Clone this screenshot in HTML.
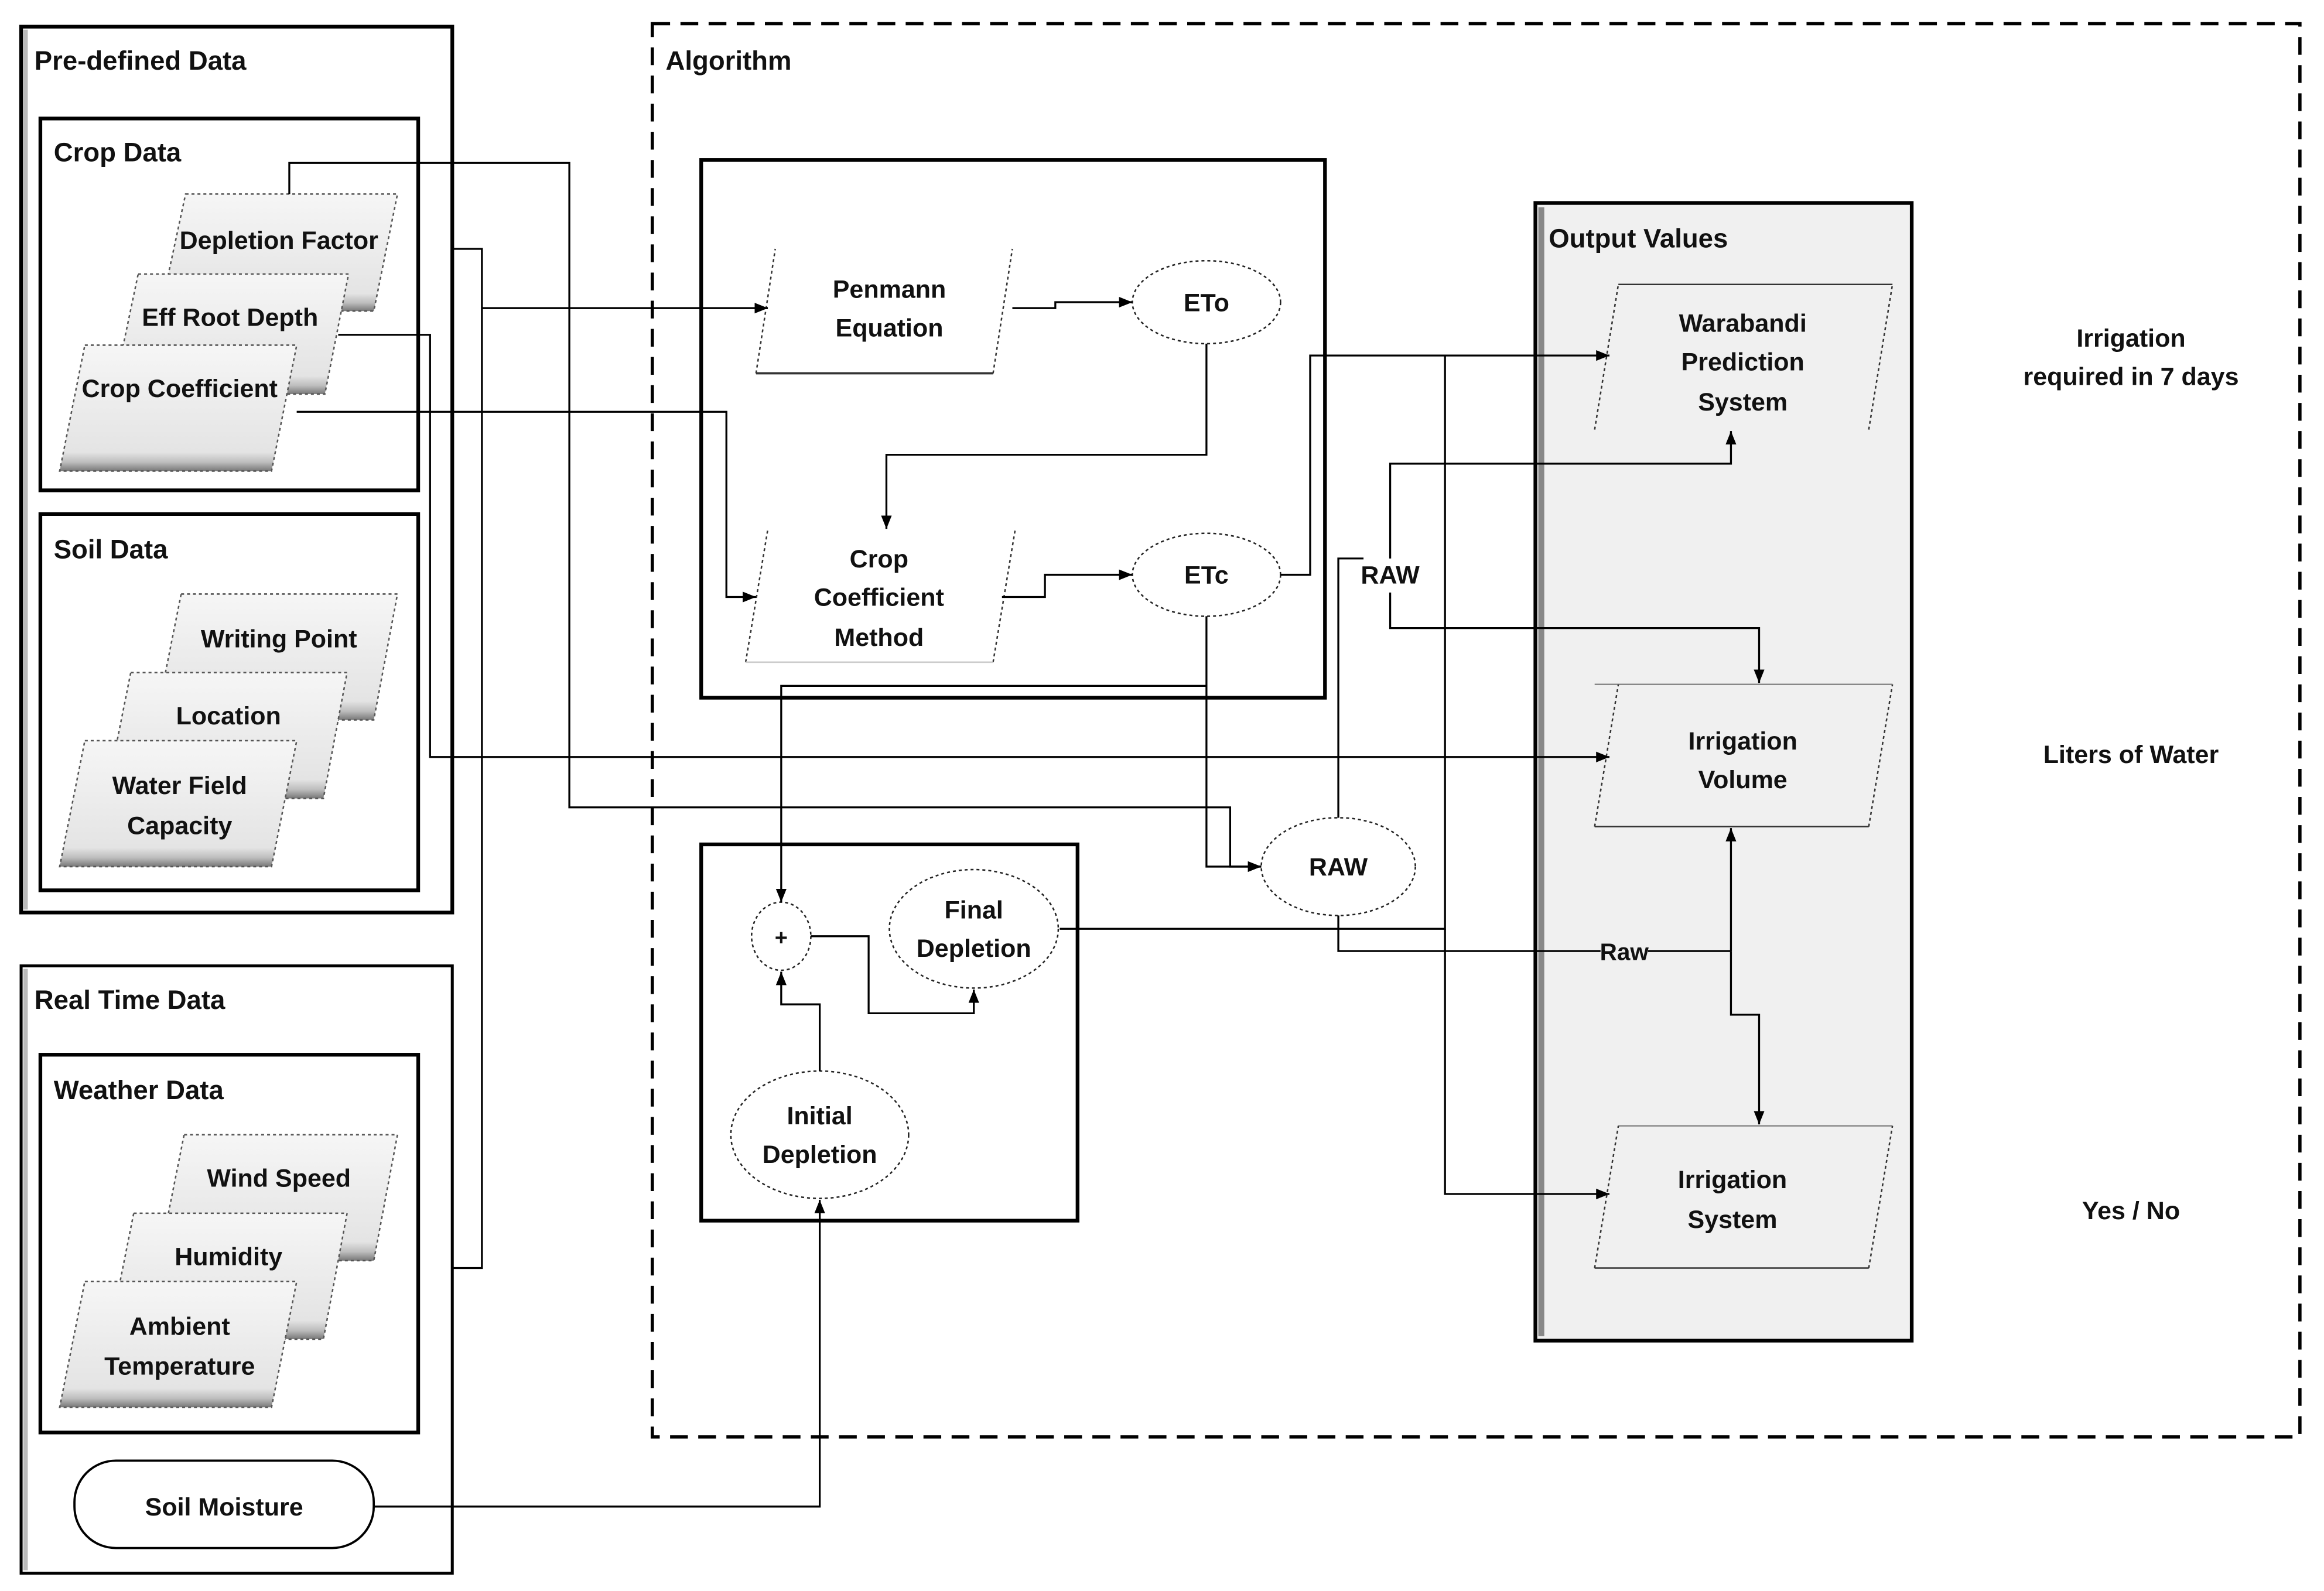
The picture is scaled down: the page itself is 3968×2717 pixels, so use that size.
<!DOCTYPE html>
<html><head><meta charset="utf-8"><style>
html,body{margin:0;padding:0;background:#fff;}
svg{display:block;}
text{font-family:"Liberation Sans",sans-serif;font-weight:bold;fill:#111;}
</style></head><body>
<svg width="3968" height="2717" viewBox="0 0 1568 1074" xmlns="http://www.w3.org/2000/svg">
<defs>
<linearGradient id="pg" x1="0" y1="0" x2="0" y2="1">
<stop offset="0" stop-color="#f6f6f6"/><stop offset="0.85" stop-color="#e4e4e4"/><stop offset="0.93" stop-color="#bdbdbd"/><stop offset="1" stop-color="#777"/>
</linearGradient>
<marker id="ar" viewBox="0 0 10 10" refX="10" refY="5" markerWidth="9" markerHeight="9" markerUnits="userSpaceOnUse" orient="auto"><path d="M0,1 L10,5 L0,9 z" fill="#000"/></marker>
</defs>
<rect width="1568" height="1074" fill="#fff"/>

<!-- Pre-defined -->
<rect x="14" y="18" width="291" height="598" fill="#fff" stroke="#000" stroke-width="2.5"/>
<line x1="17" y1="20" x2="17" y2="614" stroke="#bbb" stroke-width="3"/>
<text x="23" y="47" font-size="18">Pre-defined Data</text>
<rect x="27" y="80" width="255" height="251" fill="none" stroke="#000" stroke-width="2.5"/>
<text x="36" y="109" font-size="18">Crop Data</text>
<rect x="27" y="347" width="255" height="254" fill="none" stroke="#000" stroke-width="2.5"/>
<text x="36" y="377" font-size="18">Soil Data</text>

<g stroke="#555" stroke-width="1" stroke-dasharray="2,2">
<polygon points="125,131 268,131 252,210 108,210" fill="url(#pg)"/>
<polygon points="93,185 235,185 219,266 76,266" fill="url(#pg)"/>
<polygon points="57,233 200,233 183,318 40,318" fill="url(#pg)"/>
<polygon points="122,401 268,401 252,486 105,486" fill="url(#pg)"/>
<polygon points="88,454 234,454 218,539 71,539" fill="url(#pg)"/>
<polygon points="57,500 200,500 183,585 40,585" fill="url(#pg)"/>
<polygon points="124,766 268,766 252,851 107,851" fill="url(#pg)"/>
<polygon points="90,819 234,819 218,904 73,904" fill="url(#pg)"/>
<polygon points="57,865 200,865 183,950 40,950" fill="url(#pg)"/>
</g>
<g font-size="17" text-anchor="middle">
<text x="188" y="168">Depletion Factor</text>
<text x="155" y="220">Eff Root Depth</text>
<text x="121" y="268">Crop Coefficient</text>
<text x="188" y="437">Writing Point</text>
<text x="154" y="489">Location</text>
<text x="121" y="536">Water Field</text>
<text x="121" y="563">Capacity</text>
<text x="188" y="801">Wind Speed</text>
<text x="154" y="854">Humidity</text>
<text x="121" y="901">Ambient</text>
<text x="121" y="928">Temperature</text>
</g>

<!-- Real time -->
<rect x="14" y="652" width="291" height="410" fill="#fff" stroke="#000" stroke-width="2"/>
<line x1="17" y1="654" x2="17" y2="1060" stroke="#bbb" stroke-width="3"/>
<text x="23" y="681" font-size="18">Real Time Data</text>
<rect x="27" y="712" width="255" height="255" fill="none" stroke="#000" stroke-width="2.5"/>
<text x="36" y="742" font-size="18">Weather Data</text>
<g stroke="#555" stroke-width="1" stroke-dasharray="2,2">
<polygon points="124,766 268,766 252,851 107,851" fill="url(#pg)"/>
<polygon points="90,819 234,819 218,904 73,904" fill="url(#pg)"/>
<polygon points="57,865 200,865 183,950 40,950" fill="url(#pg)"/>
</g>
<g font-size="17" text-anchor="middle">
<text x="188" y="801">Wind Speed</text>
<text x="154" y="854">Humidity</text>
<text x="121" y="901">Ambient</text>
<text x="121" y="928">Temperature</text>
</g>
<rect x="50" y="986" width="202" height="59" rx="28" fill="#fff" stroke="#000" stroke-width="1.5"/>
<text x="151" y="1023" font-size="17" text-anchor="middle">Soil Moisture</text>

<!-- Algorithm -->
<rect x="440" y="16" width="1112" height="954" fill="none" stroke="#000" stroke-width="2.2" stroke-dasharray="12,7"/>
<text x="449" y="47" font-size="18">Algorithm</text>
<rect x="473" y="108" width="421" height="363" fill="none" stroke="#000" stroke-width="2.5"/>
<rect x="473" y="570" width="254" height="254" fill="none" stroke="#000" stroke-width="2.5"/>

<!-- Output -->
<rect x="1036" y="137" width="254" height="768" fill="#f0f0f0" stroke="#000" stroke-width="2.5"/>
<line x1="1040" y1="140" x2="1040" y2="902" stroke="#888" stroke-width="4"/>
<text x="1045" y="167" font-size="18">Output Values</text>

<g fill="none" stroke="#333" stroke-width="1">
<line x1="1076" y1="290" x2="1092" y2="192" stroke-dasharray="2,2"/>
<line x1="1261" y1="290" x2="1277" y2="192" stroke-dasharray="2,2"/>
<line x1="1092" y1="192" x2="1277" y2="192"/>
<line x1="1076" y1="462" x2="1277" y2="462" stroke="#888"/><line x1="1076" y1="558" x2="1261" y2="558"/>
<line x1="1076" y1="558" x2="1092" y2="462" stroke-dasharray="2,2"/>
<line x1="1261" y1="558" x2="1277" y2="462" stroke-dasharray="2,2"/>
<line x1="1092" y1="760" x2="1277" y2="760" stroke="#888"/><line x1="1076" y1="856" x2="1261" y2="856"/>
<line x1="1076" y1="856" x2="1092" y2="760" stroke-dasharray="2,2"/>
<line x1="1261" y1="856" x2="1277" y2="760" stroke-dasharray="2,2"/>
<!-- Penmann -->
<line x1="510" y1="252" x2="523" y2="168" stroke-dasharray="2,2"/>
<line x1="670" y1="252" x2="683" y2="168" stroke-dasharray="2,2"/>
<line x1="510" y1="252" x2="670" y2="252" stroke-width="1.5"/>
<line x1="503" y1="447" x2="518" y2="357" stroke-dasharray="2,2"/>
<line x1="670" y1="447" x2="685" y2="357" stroke-dasharray="2,2"/>
<line x1="503" y1="447" x2="670" y2="447" stroke="#ccc"/>
<!-- ellipses -->
<g stroke-dasharray="2,2" stroke="#222">
<ellipse cx="814" cy="204" rx="50" ry="28"/>
<ellipse cx="814" cy="388" rx="50" ry="28"/>
<ellipse cx="903" cy="585" rx="52" ry="33"/>
<ellipse cx="527" cy="632" rx="20" ry="23"/>
<ellipse cx="657" cy="627" rx="57" ry="40"/>
<ellipse cx="553" cy="766" rx="60" ry="43"/>
</g>
</g>

<g font-size="17" text-anchor="middle">
<text x="1176" y="224">Warabandi</text><text x="1176" y="250">Prediction</text><text x="1176" y="277">System</text>
<text x="1176" y="506">Irrigation</text><text x="1176" y="532">Volume</text>
<text x="1169" y="802">Irrigation</text><text x="1169" y="829">System</text>
<text x="600" y="201">Penmann</text><text x="600" y="227">Equation</text>
<text x="593" y="383">Crop</text><text x="593" y="409">Coefficient</text><text x="593" y="436">Method</text>
<text x="814" y="210">ETo</text>
<text x="814" y="394">ETc</text>
<text x="903" y="591">RAW</text>
<text x="527" y="638" font-size="15">+</text>
<text x="657" y="620">Final</text><text x="657" y="646">Depletion</text>
<text x="553" y="759">Initial</text><text x="553" y="785">Depletion</text>
<text x="1438" y="234">Irrigation</text><text x="1438" y="260">required in 7 days</text>
<text x="1438" y="515">Liters of Water</text>
<text x="1438" y="823">Yes / No</text>
</g>

<!-- connectors -->
<g fill="none" stroke="#000" stroke-width="1.3">
<polyline points="195,131 195,110 384,110 384,545 830,545 830,585 851,585" marker-end="url(#ar)"/>
<polyline points="305,168 325,168 325,856 305,856"/>
<polyline points="325,208 518,208" marker-end="url(#ar)"/>
<polyline points="228,226 290,226 290,511 1086,511" marker-end="url(#ar)"/>
<polyline points="200,278 490,278 490,403 510,403" marker-end="url(#ar)"/>
<polyline points="683,208 712,208 712,204 764,204" marker-end="url(#ar)"/>
<polyline points="814,232 814,307 598,307 598,357" marker-end="url(#ar)"/>
<polyline points="676,403 705,403 705,388 764,388" marker-end="url(#ar)"/>
<polyline points="864,388 884,388 884,240 1086,240" marker-end="url(#ar)"/>
<polyline points="814,416 814,585 851,585" marker-end="url(#ar)"/>
<polyline points="814,463 527,463 527,609" marker-end="url(#ar)"/>
<polyline points="903,552 903,377 920,377"/>
<polyline points="938,377 938,313 1168,313 1168,291" marker-end="url(#ar)"/>
<polyline points="938,400 938,424 1187,424 1187,461" marker-end="url(#ar)"/>
<polyline points="715,627 975,627 975,240"/>
<polyline points="975,627 975,806 1086,806" marker-end="url(#ar)"/>
<polyline points="903,618 903,642 1080,642"/>
<polyline points="1112,642 1168,642"/>
<polyline points="1168,642 1168,559" marker-end="url(#ar)"/>
<polyline points="1168,642 1168,685 1187,685 1187,759" marker-end="url(#ar)"/>
<polyline points="547,632 586,632 586,684 657,684 657,668" marker-end="url(#ar)"/>
<polyline points="553,723 553,678 527,678 527,656" marker-end="url(#ar)"/>
<polyline points="252,1017 553,1017 553,810" marker-end="url(#ar)"/>
</g>
<text x="938" y="394" font-size="17" text-anchor="middle">RAW</text>
<text x="1096" y="648" font-size="16" text-anchor="middle" font-weight="normal">Raw</text>
</svg>
</body></html>
